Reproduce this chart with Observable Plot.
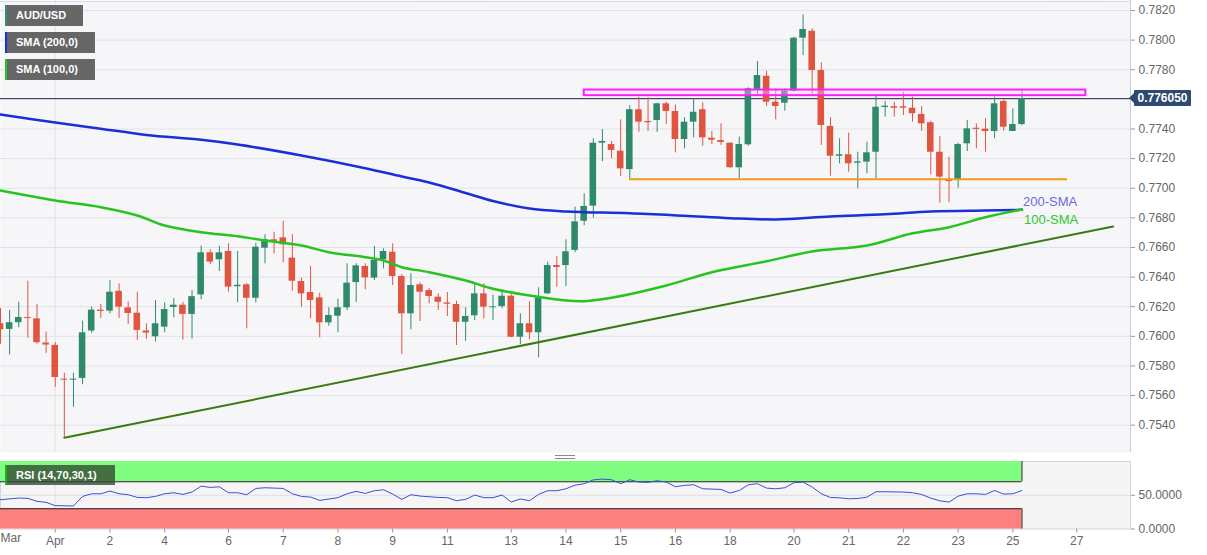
<!DOCTYPE html>
<html><head><meta charset="utf-8">
<script src="https://cdn.jsdelivr.net/npm/d3@7"></script>
<script src="https://cdn.jsdelivr.net/npm/@observablehq/plot@0.6"></script>
<style>
body{margin:0;background:#fff;font-family:"Liberation Sans",Arial,sans-serif;}
#wrap{position:relative;width:1207px;height:555px;overflow:hidden;background:#fff;}
#wrap svg{position:absolute;left:0;}
.lg{position:absolute;left:5px;height:21px;background:#666;color:#fff;font:bold 11px "Liberation Sans",Arial,sans-serif;line-height:21px;padding-left:9px;box-sizing:border-box;border-left:2px solid;}
.wm{position:absolute;font:bold 60px "Liberation Sans",Arial,sans-serif;color:rgba(110,110,110,0.10);white-space:nowrap;pointer-events:none;}
.logo{position:absolute;border-radius:14px;background:rgba(240,200,90,0.10);pointer-events:none;}
</style></head><body><div id="wrap"></div><script>
// ---- data (4-hour candles, index 0 = first visible bar) ----
const candleOpen  = [0.76085,0.76047,0.76092,0.76127,0.76118,0.75955,0.75939,0.75711,0.75704,0.75716,0.76036,0.76177,0.76170,0.76304,0.76192,0.76156,0.76036,0.75997,0.76062,0.76195,0.76210,0.76148,0.76280,0.76564,0.76517,0.76573,0.76335,0.76348,0.76257,0.76595,0.76652,0.76665,0.76528,0.76370,0.76296,0.76260,0.76091,0.76136,0.76193,0.76363,0.76472,0.76393,0.76517,0.76568,0.76404,0.76152,0.76348,0.76309,0.76264,0.76226,0.76215,0.76095,0.76139,0.76287,0.76193,0.76201,0.76271,0.75994,0.76085,0.76024,0.76287,0.76478,0.76478,0.76580,0.76777,0.76879,0.77304,0.77295,0.77250,0.77126,0.77530,0.77451,0.77457,0.77570,0.77518,0.77329,0.77446,0.77530,0.77338,0.77322,0.77304,0.77138,0.77293,0.77667,0.77756,0.77581,0.77574,0.77655,0.78013,0.78060,0.77795,0.77417,0.77216,0.77226,0.77169,0.77176,0.77243,0.77545,0.77550,0.77550,0.77540,0.77498,0.77442,0.77243,0.77057,0.77052,0.77300,0.77405,0.77399,0.77383,0.77586,0.77383,0.77430];
const candleHigh  = [0.76188,0.76174,0.76230,0.76372,0.76215,0.76029,0.75957,0.75751,0.75751,0.76103,0.76197,0.76215,0.76376,0.76354,0.76233,0.76298,0.76085,0.76242,0.76226,0.76255,0.76230,0.76309,0.76609,0.76584,0.76609,0.76625,0.76573,0.76355,0.76629,0.76686,0.76703,0.76777,0.76686,0.76393,0.76472,0.76291,0.76193,0.76251,0.76490,0.76490,0.76490,0.76607,0.76591,0.76625,0.76417,0.76422,0.76361,0.76325,0.76287,0.76296,0.76237,0.76193,0.76348,0.76355,0.76278,0.76316,0.76282,0.76152,0.76233,0.76328,0.76501,0.76539,0.76652,0.76872,0.76962,0.77334,0.77395,0.77316,0.77462,0.77557,0.77615,0.77611,0.77574,0.77581,0.77563,0.77476,0.77604,0.77577,0.77383,0.77435,0.77306,0.77345,0.77678,0.77856,0.77790,0.77671,0.77671,0.78020,0.78171,0.78076,0.77847,0.77476,0.77334,0.77372,0.77243,0.77311,0.77619,0.77586,0.77580,0.77648,0.77615,0.77552,0.77453,0.77349,0.77210,0.77304,0.77457,0.77435,0.77469,0.77615,0.77597,0.77536,0.77660];
const candleLow   = [0.75946,0.75874,0.76058,0.75987,0.75946,0.75885,0.75655,0.75315,0.75521,0.75673,0.76020,0.76121,0.76152,0.76121,0.76080,0.75973,0.75980,0.75962,0.76024,0.76125,0.75975,0.75981,0.76247,0.76483,0.76438,0.76298,0.76226,0.76051,0.76226,0.76490,0.76557,0.76496,0.76305,0.76197,0.76118,0.75990,0.76068,0.76024,0.76174,0.76230,0.76314,0.76377,0.76456,0.76343,0.75877,0.76044,0.76100,0.76220,0.76174,0.76134,0.75938,0.75967,0.76107,0.76118,0.76107,0.76186,0.75990,0.75945,0.75977,0.75855,0.76282,0.76332,0.76336,0.76564,0.76748,0.76798,0.77180,0.77199,0.77079,0.77052,0.77378,0.77383,0.77378,0.77430,0.77239,0.77266,0.77340,0.77284,0.77295,0.77289,0.77136,0.77064,0.77284,0.77633,0.77552,0.77462,0.77520,0.77648,0.77896,0.77633,0.77289,0.77081,0.77165,0.77108,0.76996,0.77097,0.77064,0.77480,0.77480,0.77491,0.77446,0.77385,0.77091,0.76899,0.76902,0.77000,0.77248,0.77266,0.77243,0.77334,0.77385,0.77383,0.77421];
const candleClose = [0.76044,0.76092,0.76127,0.76120,0.75957,0.75941,0.75722,0.75704,0.75711,0.76024,0.76177,0.76168,0.76298,0.76197,0.76154,0.76040,0.76022,0.76085,0.76181,0.76210,0.76148,0.76268,0.76564,0.76501,0.76564,0.76332,0.76345,0.76257,0.76602,0.76652,0.76634,0.76618,0.76372,0.76287,0.76242,0.76091,0.76141,0.76193,0.76359,0.76476,0.76395,0.76512,0.76573,0.76404,0.76152,0.76343,0.76298,0.76269,0.76230,0.76217,0.76095,0.76134,0.76287,0.76197,0.76199,0.76271,0.75994,0.76085,0.76024,0.76260,0.76478,0.76465,0.76571,0.76773,0.76877,0.77304,0.77316,0.77255,0.77131,0.77530,0.77446,0.77442,0.77570,0.77518,0.77329,0.77446,0.77513,0.77340,0.77324,0.77309,0.77138,0.77295,0.77671,0.77761,0.77581,0.77552,0.77655,0.78013,0.78072,0.77795,0.77424,0.77216,0.77226,0.77165,0.77178,0.77239,0.77547,0.77554,0.77540,0.77540,0.77503,0.77435,0.77243,0.77075,0.77045,0.77295,0.77401,0.77397,0.77383,0.77570,0.77412,0.77430,0.77605];

const sma200Idx = [0,6,11,16,22,26,33,40,44,47,51,54,58,62,64,69,75,80,85,91,97,102,108,112];
const sma200Val = [0.77498,0.77444,0.77402,0.77360,0.77327,0.77295,0.77221,0.77135,0.77079,0.77039,0.76968,0.76914,0.76863,0.76843,0.76838,0.76831,0.76814,0.76798,0.76789,0.76809,0.76824,0.76843,0.76850,0.76854];
const sma100Idx = [0,6,11,15,18,22,26,29,33,36,40,42,44,47,51,54,58,62,64,67,73,78,84,89,95,100,104,108,112];
const sma100Val = [0.76985,0.76917,0.76872,0.76816,0.76748,0.76703,0.76676,0.76647,0.76613,0.76568,0.76534,0.76512,0.76467,0.76433,0.76377,0.76321,0.76276,0.76242,0.76237,0.76260,0.76343,0.76433,0.76507,0.76573,0.76613,0.76696,0.76737,0.76804,0.76856];

const trendIdx = [7,122];
const trendVal = [0.75315,0.76742];
const supportIdx = [69,117];
const supportVal = 0.77060;
const zoneIdx = [64,119];
const zoneVal = [0.77625,0.77663];
const lastPrice = 0.776050;

const rsiIdx = [0,2,3,4,5,6,8,9,10,11,12,13,14,15,16,17,18,19,20,21,22,23,24,25,26,27,28,29,31,32,33,34,35,37,38,39,40,41,42,43,44,45,46,48,49,50,51,52,53,54,55,56,57,58,59,60,61,62,63,64,65,66,67,68,69,70,71,72,73,74,75,76,77,78,79,80,81,82,83,84,85,86,87,88,89,90,91,92,93,94,95,96,97,99,100,101,102,103,104,105,106,107,108,109,110,111,112];
const rsiVal = [43.4,45.9,45.4,41.0,39.5,34.6,34.1,48.3,52.2,52.2,56.2,52.2,50.8,46.8,46.4,48.3,52.2,53.7,51.3,54.7,63.5,61.6,62.5,53.7,53.7,50.8,60.1,61.1,60.1,52.2,48.3,47.3,42.4,46.4,52.2,55.7,52.7,56.7,58.1,51.8,43.9,50.8,48.8,46.8,46.4,41.9,43.9,50.3,46.4,46.4,50.3,40.0,44.4,41.9,51.3,56.7,56.7,59.6,65.0,67.0,72.8,73.9,73.0,67.1,73.0,69.5,69.1,71.5,69.5,62.6,64.6,65.6,59.6,59.1,58.6,53.2,57.1,65.6,67.1,60.6,59.6,61.1,68.6,69.5,62.1,52.2,46.7,46.2,44.7,45.2,47.2,55.2,55.2,54.7,53.7,51.2,45.7,41.8,39.8,48.7,52.2,52.2,51.2,57.1,51.7,52.2,57.1];
const rsiLevels = [30,70];

const yTicks = [0.7540,0.7560,0.7580,0.7600,0.7620,0.7640,0.7660,0.7680,0.7700,0.7720,0.7740,0.7760,0.7780,0.7800,0.7820];
const xTickIdx = [0,6,12,18,25,31,37,43,49,56,62,68,74,80,87,93,99,105,111,118];
const xTickLabel = ["Mar","Apr","2","4","6","7","8","9","11","13","14","15","16","18","20","21","22","23","25","27"];
const monthIdx = [6];

// ---- build ----
const UP = "#2f8a6c", DOWN = "#e0553f";
const FONT = "'Liberation Sans', Arial, sans-serif";
const candles = candleOpen.map((o, i) => {
  const c = candleClose[i], lo = Math.min(o, c), hi = Math.max(o, c);
  const pad = Math.max(0, (0.00003 - (hi - lo)) / 2);
  return {i, o, h: candleHigh[i], l: candleLow[i], c, b1: lo - pad, b2: hi + pad, col: c >= o ? UP : DOWN};
});
const zip = (a, b) => a.map((x, k) => ({x, y: b[k]}));
const sma200 = zip(sma200Idx, sma200Val);
const sma100 = zip(sma100Idx, sma100Val);
const trend = zip(trendIdx, trendVal);
const rsi = zip(rsiIdx, rsiVal);
const lastIdx = candles.length - 1;
const xDomain = [0, 123.9];
// the price tag covers the tick label nearest the last price, as in the original
const labelTicks = yTicks.filter(t => Math.abs(t - lastPrice) > 0.0008);

const main = Plot.plot({
  width: 1207, height: 452, marginLeft: 0, marginRight: 77, marginTop: 0, marginBottom: 0,
  x: {domain: xDomain, axis: null},
  y: {domain: [0.7540, 0.7820], range: [424.7, 10], axis: null},
  style: {background: "transparent", fontFamily: FONT, fontSize: "12px", color: "#666", overflow: "visible"},
  marks: [
    Plot.frame({fill: "#f6f6f8", stroke: "none"}),
    Plot.ruleY(yTicks, {stroke: "#e1e2e8", strokeWidth: 1}),
    Plot.ruleX(monthIdx, {stroke: "#e1e2e8", strokeWidth: 1}),
    Plot.ruleY([lastPrice], {stroke: "#22344f", strokeWidth: 1}),
    Plot.ruleX(candles, {x: "i", y1: "l", y2: "h", stroke: "col", strokeWidth: 1, clip: true}),
    Plot.rect(candles, {x1: d => d.i - 0.36, x2: d => d.i + 0.36, y1: "b1", y2: "b2", fill: "col", clip: true}),
    Plot.rect([0], {x1: () => zoneIdx[0], x2: () => zoneIdx[1], y1: () => zoneVal[0], y2: () => zoneVal[1], fill: "#ffd6ff", fillOpacity: 0.35, stroke: "#ff1cff", strokeWidth: 2}),
    Plot.ruleY([supportVal], {x1: () => supportIdx[0], x2: () => supportIdx[1], stroke: "#f29a1a", strokeWidth: 2}),
    Plot.line(trend, {x: "x", y: "y", stroke: "#3a7a12", strokeWidth: 2, clip: true}),
    Plot.line(sma200, {x: "x", y: "y", stroke: "#1b2fd6", strokeWidth: 2.5, curve: "catmull-rom", clip: true}),
    Plot.line(sma100, {x: "x", y: "y", stroke: "#27c41f", strokeWidth: 2.5, curve: "catmull-rom", clip: true}),
    Plot.text([sma200[sma200.length - 1]], {x: "x", y: "y", text: () => "200-SMA", dx: 1, dy: -8, textAnchor: "start", fill: "#6b6bdc", fontSize: 13}),
    Plot.text([sma100[sma100.length - 1]], {x: "x", y: "y", text: () => "100-SMA", dx: 2, dy: 10, textAnchor: "start", fill: "#2ec82e", fontSize: 13}),
    Plot.ruleX([xDomain[1]], {stroke: "#c9ccd6"}),
    Plot.ruleY([0.7820], {dy: -9, stroke: "#d8dae6"}),
    Plot.axisY(labelTicks, {anchor: "right", label: null, tickFormat: d3.format(".4f"), tickSize: 4, tickPadding: 4, stroke: "#999", fill: "#666", fontSize: 12})
  ]
});
main.style.top = "0px";

const rsiPlot = Plot.plot({
  width: 1207, height: 103, marginLeft: 0, marginRight: 77, marginTop: 9, marginBottom: 26.5,
  x: {domain: xDomain, axis: null},
  y: {domain: [0, 100], axis: null},
  style: {background: "transparent", fontFamily: FONT, fontSize: "12px", color: "#666", overflow: "visible"},
  marks: [
    Plot.frame({fill: "#f5f5f5", stroke: "#d4d4d8"}),
    Plot.ruleX(monthIdx, {stroke: "#e2e2e6"}),
    Plot.ruleY([50], {stroke: "#dedee2"}),
    Plot.rect([{lo: rsiLevels[1], hi: 100, f: "#80fc80"}, {lo: 0, hi: rsiLevels[0], f: "#fc8080"}],
      {x1: () => 0, x2: () => lastIdx, y1: "lo", y2: "hi", fill: "f"}),
    Plot.ruleY(rsiLevels, {x1: () => 0, x2: () => lastIdx, stroke: "#222", strokeWidth: 1}),
    Plot.ruleX([{a: rsiLevels[1], b: 100}, {a: 0, b: rsiLevels[0]}], {x: () => lastIdx, y1: "a", y2: "b", stroke: "#222", strokeWidth: 1}),
    Plot.line(rsi, {x: "x", y: "y", stroke: "#3a4fd6", strokeWidth: 1}),
    Plot.axisY([0, 50], {anchor: "right", label: null, tickFormat: d3.format(".4f"), tickSize: 4, tickPadding: 4, stroke: "#999", fill: "#666", fontSize: 12}),
    Plot.axisX(xTickIdx.slice(1), {anchor: "bottom", label: null, tickFormat: (d) => xTickLabel[xTickIdx.indexOf(d)], tickSize: 4, tickPadding: 3, stroke: "#999", fill: "#666", fontSize: 12}),
    Plot.text([xTickIdx[0]], {x: d => d, text: d => xTickLabel[xTickIdx.indexOf(d)], frameAnchor: "bottom", dy: 13, textAnchor: "start", fill: "#666", fontSize: 12})
  ]
});
rsiPlot.style.top = "452px";

const wrap = document.getElementById("wrap");
// faint watermarks
[[425, 318, 78, 60], [1030, 318, 70, 60], [408, 0, 90, 34], [1038, 0, 75, 34]].forEach(([l, t, w, h]) => {
  const d = document.createElement("div"); d.className = "logo";
  Object.assign(d.style, {left: l + "px", top: t + "px", width: w + "px", height: h + "px"});
  wrap.appendChild(d);
});
[[545, 280, "WikiFX"]].forEach(([l, t, s]) => {
  const d = document.createElement("div"); d.className = "wm"; d.textContent = s;
  Object.assign(d.style, {left: l + "px", top: t + "px"});
  wrap.appendChild(d);
});
wrap.appendChild(main);
wrap.appendChild(rsiPlot);

// legend tags
[["AUD/USD", 5, 78, "#3a8a7a"], ["SMA (200,0)", 32, 90, "#1b2fd6"], ["SMA (100,0)", 59, 90, "#27c41f"]].forEach(([t, top, w, c]) => {
  const d = document.createElement("div"); d.className = "lg"; d.textContent = t;
  Object.assign(d.style, {top: top + "px", width: w + "px", borderLeftColor: c});
  wrap.appendChild(d);
});
const r = document.createElement("div"); r.className = "lg"; r.textContent = "RSI (14,70,30,1)";
Object.assign(r.style, {top: "465px", width: "110px", height: "20px", lineHeight: "20px", background: "rgba(50,70,50,0.78)", borderLeftColor: "#1fae1f"});
wrap.appendChild(r);

// drag handle
[454.5, 457.5].forEach(t => {
  const d = document.createElement("div");
  Object.assign(d.style, {position: "absolute", left: "555px", top: t + "px", width: "20px", height: "1px", background: "#8a8a8a"});
  wrap.appendChild(d);
});

// current price tag, positioned with the plot's own y scale
const py = main.scale("y").apply(lastPrice);
const tag = document.createElement("div");
tag.textContent = lastPrice.toFixed(6);
Object.assign(tag.style, {position: "absolute", left: "1134px", top: (py - 8) + "px", width: "57px", height: "16px", background: "#2e4a6e", color: "#fff", font: "bold 12px " + FONT, lineHeight: "16px", textAlign: "center", borderRadius: "1px"});
wrap.appendChild(tag);
const arrow = document.createElement("div");
Object.assign(arrow.style, {position: "absolute", left: "1129px", top: (py - 5) + "px", width: "0", height: "0", borderTop: "5px solid transparent", borderBottom: "5px solid transparent", borderRight: "5px solid #2e4a6e"});
wrap.appendChild(arrow);
</script></body></html>
